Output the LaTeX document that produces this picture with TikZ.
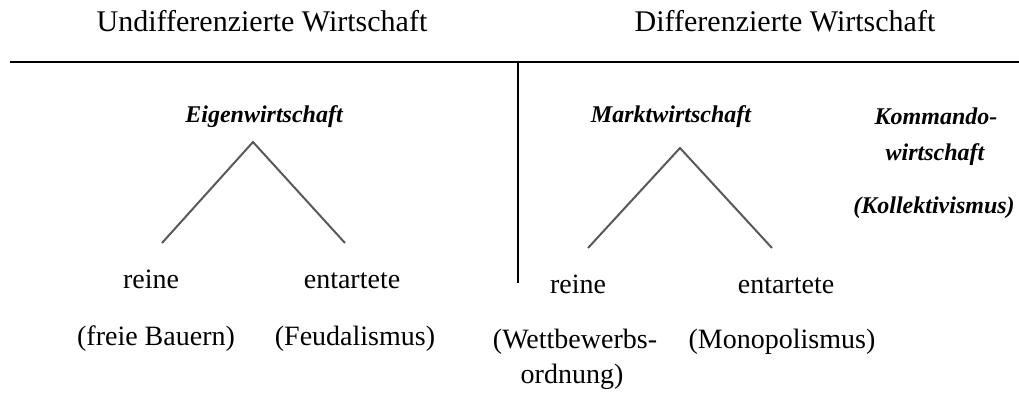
\documentclass[tikz,border=0pt]{standalone}
\usepackage{fontspec}
\setmainfont{Liberation Serif}
\begin{document}
\begin{tikzpicture}[x=1pt,y=-1pt,
  head/.style={font=\fontsize{30}{34}\selectfont, inner sep=0pt, anchor=base},
  lbl/.style={font=\fontsize{28}{32}\selectfont, inner sep=0pt, anchor=base},
  ital/.style={font=\fontsize{24}{28}\selectfont\bfseries\itshape, inner sep=0pt, anchor=base},
  rule/.style={line width=2.2pt, black},
  branch/.style={line width=2pt, black!65}]
\useasboundingbox (0,0) rectangle (1019,394);
% headings
\node[head] (uw) at (262,31) {Undifferenzierte Wirtschaft};
\node[head] (dw) at (785,31) {Differenzierte Wirtschaft};
% rules
\coordinate (hl) at (10,62);
\coordinate (hr) at (1019,62);
\coordinate (vt) at (518,62);
\coordinate (vb) at (518,283);
\draw[rule] (hl) -- (hr);
\draw[rule] (vt) -- (vb);
% left tree
\node[ital] (eig) at (264,122) {Eigenwirtschaft};
\coordinate (aL) at (253,142);
\coordinate (lL) at (162,243);
\coordinate (rL) at (345,243);
\draw[branch] (lL) -- (aL) -- (rL);
\node[lbl] (reineL) at (151,288) {reine};
\node[lbl] (entL) at (352,288) {entartete};
\node[lbl] (bauern) at (156,345) {(freie Bauern)};
\node[lbl] (feud) at (355,345) {(Feudalismus)};
% right tree
\node[ital] (markt) at (671,122) {Marktwirtschaft};
\coordinate (aR) at (680,148);
\coordinate (lR) at (588,248);
\coordinate (rR) at (772,248);
\draw[branch] (lR) -- (aR) -- (rR);
\node[lbl] (reineR) at (578,293) {reine};
\node[lbl] (entR) at (786,293) {entartete};
\node[lbl] (wett) at (575,348) {(Wettbewerbs-};
\node[lbl] (ordn) at (572,383) {ordnung)};
\node[lbl] (mono) at (782,348) {(Monopolismus)};
% command economy
\node[ital] (komm1) at (936,124) {Kommando-};
\node[ital] (komm2) at (935,160) {wirtschaft};
\node[ital] (koll) at (934,213) {(Kollektivismus)};
\end{tikzpicture}
\end{document}
